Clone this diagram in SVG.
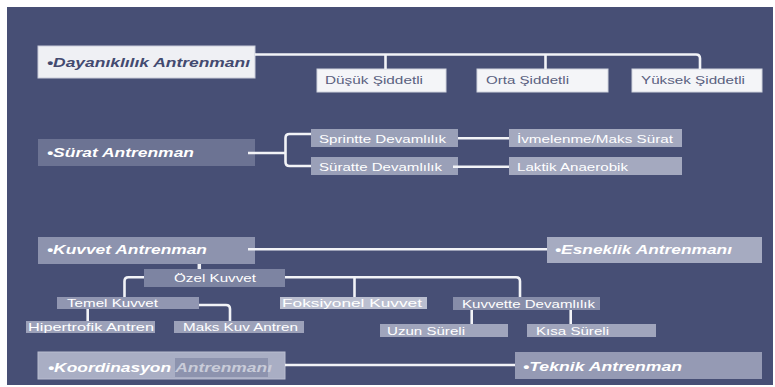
<svg xmlns="http://www.w3.org/2000/svg" width="775" height="387" viewBox="0 0 775 387">
<style>
.t{font-family:"Liberation Sans",Arial,sans-serif;font-weight:bold;font-style:italic;font-size:13px;fill:#ffffff}
.s{font-family:"Liberation Sans",Arial,sans-serif;font-size:11.5px;fill:#ffffff}
.c{fill:none;stroke:#f2f3f7;stroke-width:2.6}
</style>
<rect x="0" y="0" width="775" height="387" fill="#ffffff"/>
<rect x="7" y="7" width="766" height="378" fill="#474f75"/>

<g id="dayaniklilik">
<rect x="38" y="46" width="217" height="32" fill="#eff0f4" stroke="#c9ccd9" stroke-width="1"/>
<text class="t" x="47" y="67" textLength="203" lengthAdjust="spacingAndGlyphs" style="fill:#434a70">•Dayanıklılık Antrenmanı</text>
</g>
<g id="dusuk">
<rect x="317" y="69" width="129" height="23" fill="#f4f5f8" stroke="#d0d3de" stroke-width="1"/>
<text class="s" x="325" y="84" textLength="98" lengthAdjust="spacingAndGlyphs" style="fill:#5a6180">Düşük Şiddetli</text>
</g>
<g id="orta">
<rect x="477" y="69" width="131" height="23" fill="#f4f5f8" stroke="#d0d3de" stroke-width="1"/>
<text class="s" x="486" y="84" textLength="83" lengthAdjust="spacingAndGlyphs" style="fill:#5a6180">Orta Şiddetli</text>
</g>
<g id="yuksek">
<rect x="632" y="69" width="130" height="23" fill="#f4f5f8" stroke="#d0d3de" stroke-width="1"/>
<text class="s" x="641" y="84" textLength="104" lengthAdjust="spacingAndGlyphs" style="fill:#5a6180">Yüksek Şiddetli</text>
</g>

<g id="surat">
<rect x="38" y="139" width="217" height="27" fill="#6c7393"/>
<text class="t" x="47" y="157" textLength="147" lengthAdjust="spacingAndGlyphs">•Sürat Antrenman</text>
</g>
<g id="sprintte">
<rect x="311" y="129" width="147" height="18" fill="#9aa0b8"/>
<text class="s" x="319" y="143" textLength="127" lengthAdjust="spacingAndGlyphs">Sprintte Devamlılık</text>
</g>
<g id="suratte">
<rect x="311" y="157" width="147" height="18" fill="#9aa0b8"/>
<text class="s" x="319" y="171" textLength="123" lengthAdjust="spacingAndGlyphs">Süratte Devamlılık</text>
</g>
<g id="ivmelenme">
<rect x="509" y="129" width="173" height="18" fill="#a4a9bf"/>
<text class="s" x="517" y="143" textLength="156" lengthAdjust="spacingAndGlyphs">İvmelenme/Maks Sürat</text>
</g>
<g id="laktik">
<rect x="509" y="157" width="173" height="18" fill="#a4a9bf"/>
<text class="s" x="517" y="171" textLength="111" lengthAdjust="spacingAndGlyphs">Laktik Anaerobik</text>
</g>

<g id="kuvvet">
<rect x="38" y="237" width="217" height="27" fill="#8d93ae"/>
<text class="t" x="47" y="254" textLength="160" lengthAdjust="spacingAndGlyphs">•Kuvvet Antrenman</text>
</g>
<g id="esneklik">
<rect x="547" y="237" width="215" height="26" fill="#a6abc1"/>
<text class="t" x="555" y="254" textLength="177" lengthAdjust="spacingAndGlyphs">•Esneklik Antrenmanı</text>
</g>
<g id="ozel">
<rect x="144" y="269" width="141" height="18" fill="#7d84a2"/>
<text class="s" x="174" y="282" textLength="82" lengthAdjust="spacingAndGlyphs">Özel Kuvvet</text>
</g>
<g id="temel">
<rect x="57" y="297" width="142" height="12" fill="#9196b1"/>
<text class="s" x="67" y="307" textLength="91" lengthAdjust="spacingAndGlyphs">Temel Kuvvet</text>
</g>
<g id="hipertrofik">
<rect x="26" y="321" width="129" height="12" fill="#9ca1b9"/>
<text class="s" x="28" y="331" textLength="126" lengthAdjust="spacingAndGlyphs">Hipertrofik Antren</text>
</g>
<g id="maks">
<rect x="174" y="321" width="130" height="12" fill="#9ca1b9"/>
<text class="s" x="183" y="331" textLength="115" lengthAdjust="spacingAndGlyphs">Maks Kuv Antren</text>
</g>
<g id="foksiyonel">
<rect x="280" y="297" width="147" height="12" fill="#bbbfd0"/>
<text class="s" x="282" y="307" textLength="140" lengthAdjust="spacingAndGlyphs">Foksiyonel Kuvvet</text>
</g>
<g id="kuvvette">
<rect x="453" y="297" width="147" height="13" fill="#878da9"/>
<text class="s" x="462" y="308" textLength="133" lengthAdjust="spacingAndGlyphs">Kuvvette Devamlılık</text>
</g>
<g id="uzun">
<rect x="380" y="324" width="128" height="13" fill="#a0a5bc"/>
<text class="s" x="387" y="335" textLength="78" lengthAdjust="spacingAndGlyphs">Uzun Süreli</text>
</g>
<g id="kisa">
<rect x="527" y="324" width="129" height="13" fill="#a0a5bc"/>
<text class="s" x="536" y="335" textLength="73" lengthAdjust="spacingAndGlyphs">Kısa Süreli</text>
</g>

<g id="koordinasyon">
<rect x="38" y="352" width="247" height="27" fill="#a9aec4" stroke="#b9bdd0" stroke-width="1"/>
<rect x="175" y="358" width="93" height="19" fill="#8d93ae"/>
<text class="t" x="48" y="372" textLength="224" lengthAdjust="spacingAndGlyphs">•Koordinasyon <tspan style="fill:#c9ccd9">Antrenmanı</tspan></text>
</g>
<g id="teknik">
<rect x="515" y="352" width="247" height="27" fill="#959ab4"/>
<text class="t" x="523" y="371" textLength="159" lengthAdjust="spacingAndGlyphs">•Teknik Antrenman</text>
</g>

<g id="connectors" class="c">
<path class="c" d="M255,54.5 H696 Q700,54.5 700,58.5 V69"/>
<path class="c" d="M385.5,54.5 V69"/>
<path class="c" d="M545.5,54.5 V69"/>
<path class="c" d="M248,153 H285.5"/>
<path class="c" d="M311,134 H289.5 Q285.5,134 285.5,138 V162 Q285.5,166 289.5,166 H311"/>
<path class="c" d="M458,138.3 H509"/>
<path class="c" d="M453,166.7 H509"/>
<path class="c" d="M248,249.3 H547"/>
<path class="c" d="M199.3,264 V269" style="stroke-width:3.5"/>
<path class="c" d="M144,277.3 H128.5 Q124.5,277.3 124.5,281.3 V297"/>
<path class="c" d="M285,277.3 H516 Q520,277.3 520,281.3 V297"/>
<path class="c" d="M354.5,277.3 V297"/>
<path class="c" d="M199,305 H226 Q230,305 230,309 V321"/>
<path class="c" d="M87.7,309 V321"/>
<path class="c" d="M471.7,310 V324"/>
<path class="c" d="M570.7,310 V324"/>
<path class="c" d="M285,365 H515"/>
</g>
</svg>
